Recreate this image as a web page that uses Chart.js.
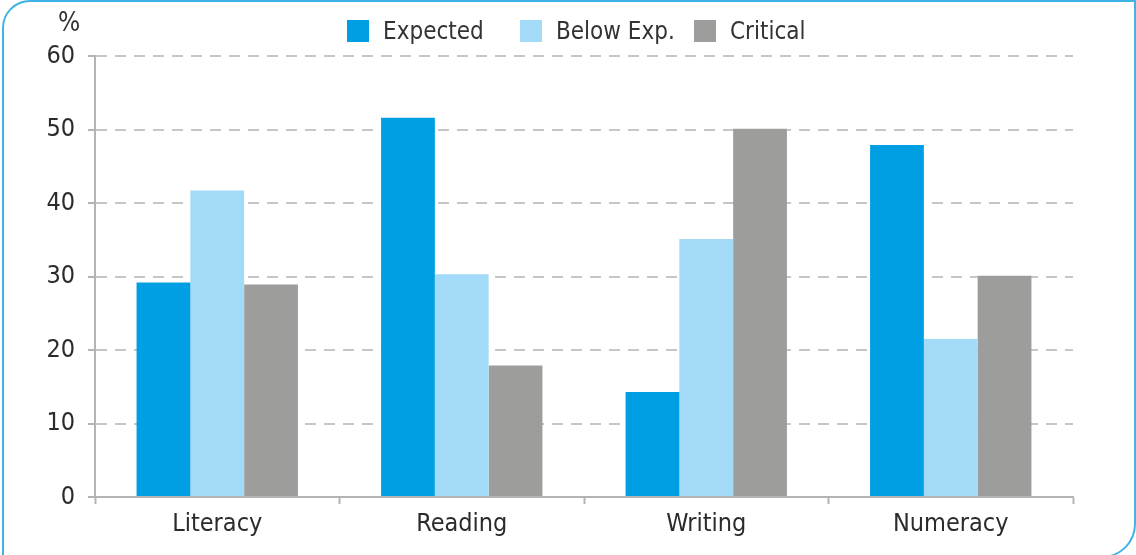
<!DOCTYPE html>
<html>
<head>
<meta charset="utf-8">
<script src="https://cdn.jsdelivr.net/npm/chart.js@4/dist/chart.umd.min.js"></script>
<style>
  html, body { margin: 0; padding: 0; background: #fff; }
  #wrap { position: relative; width: 1136px; height: 555px; overflow: hidden; }
  #card {
    position: absolute; left: 2px; top: 0; width: 1130px; height: 554px;
    border: 2px solid #3fb3e6; border-radius: 28px 0 34px 0; pointer-events: none;
  }
  #unit {
    position: absolute; left: 58px; top: 7px; font: 26px 'DejaVu Sans Condensed', sans-serif;
    color: #333;
  }
  #legend { position: absolute; top: 0; left: 0; font: 24px 'DejaVu Sans Condensed', sans-serif; color: #333; }
  #legend .item { position: absolute; top: 17px; display: flex; align-items: center; white-space: nowrap; }
  #legend .box { width: 22px; height: 22px; margin-right: 14px; }
</style>
</head>
<body>
<div id="wrap">
  <canvas id="myChart" width="1136" height="555"></canvas>
  <div id="unit">%</div>
  <div id="legend"></div>
  <div id="card"></div>
</div>
<script>
const categories = ['Literacy', 'Reading', 'Writing', 'Numeracy'];
const expected = [29.2, 51.6, 14.3, 47.9];
const belowExp = [41.7, 30.3, 35.1, 21.5];
const critical = [28.9, 17.9, 50.1, 30.1];
const seriesNames = ['Expected', 'Below Exp.', 'Critical'];
const seriesColors = ['#009fe3', '#a3daf7', '#9d9d9c'];

const fontFamily = "'DejaVu Sans Condensed', sans-serif";

const data = {
    labels: categories,
    datasets: [expected, belowExp, critical].map((vals, i) => ({
        label: seriesNames[i],
        data: vals,
        backgroundColor: seriesColors[i],
        borderWidth: 0,
        categoryPercentage: 0.66,
        barPercentage: 1.0
    }))
};

const config = {
    type: 'bar',
    data: data,
    options: {
        responsive: false,
        animation: false,
        layout: { padding: { top: 56, right: 63, bottom: 0, left: 0 } },
        plugins: { legend: { display: false }, tooltip: { enabled: false } },
        scales: {
            x: {
                grid: {
                    display: true, offset: true, drawOnChartArea: false,
                    tickLength: 7, tickColor: '#b4b4b4', tickWidth: 2
                },
                border: { display: true, color: '#b4b4b4', width: 2 },
                ticks: { color: '#2b2b2b', padding: 5, font: { family: fontFamily, size: 25 } },
                afterFit: (s) => { s.height = 58; }
            },
            y: {
                min: 0, max: 60,
                ticks: { stepSize: 10, color: '#2b2b2b', padding: 13, font: { family: fontFamily, size: 25 } },
                grid: {
                    color: '#c6c6c6', lineWidth: 2, tickLength: 7,
                    tickColor: '#b4b4b4', tickWidth: 2, tickBorderDash: []
                },
                border: { display: true, color: '#b4b4b4', width: 2, dash: [11, 8] },
                afterFit: (s) => { s.width = 95; }
            }
        }
    }
};

const ctx = document.getElementById('myChart');
const myChart = new Chart(ctx, config);

// html legend built from the datasets
const legendX = [347, 520, 694];
const legendEl = document.getElementById('legend');
myChart.data.datasets.forEach((ds, i) => {
    const item = document.createElement('div');
    item.className = 'item';
    item.style.left = legendX[i] + 'px';
    const box = document.createElement('span');
    box.className = 'box';
    box.style.background = ds.backgroundColor;
    const txt = document.createElement('span');
    txt.textContent = ds.label;
    item.appendChild(box);
    item.appendChild(txt);
    legendEl.appendChild(item);
});
</script>
</body>
</html>
